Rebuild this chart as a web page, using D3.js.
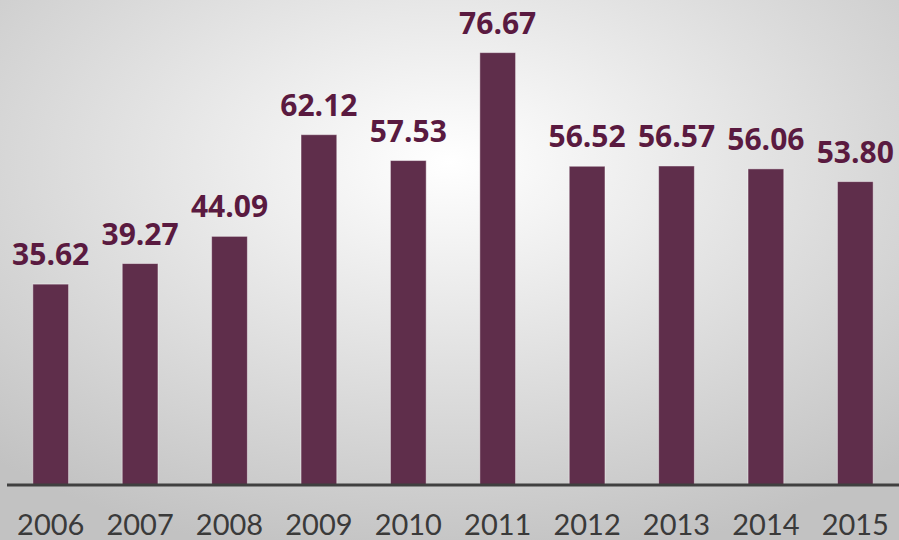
<!DOCTYPE html>
<html>
<head>
<meta charset="utf-8">
<script src="https://cdn.jsdelivr.net/npm/d3@7"></script>
<style>
  body { margin: 0; }
  svg { display: block; }
</style>
</head>
<body>
<div id="chart"></div>
<script>
var years = ["2006", "2007", "2008", "2009", "2010", "2011", "2012", "2013", "2014", "2015"]
var values = [35.62, 39.27, 44.09, 62.12, 57.53, 76.67, 56.52, 56.57, 56.06, 53.80]

var width = 899,
    height = 540,
    baseline = 485

var svg = d3.select("#chart")
    .append("svg")
    .attr("width", width)
    .attr("height", height)

var defs = svg.append("defs")
var grad = defs.append("radialGradient")
    .attr("id", "bg")
    .attr("cx", "50%").attr("cy", "30%").attr("r", "75%")
grad.append("stop").attr("offset", "0%").attr("stop-color", "#ffffff")
grad.append("stop").attr("offset", "100%").attr("stop-color", "#c2c2c2")

svg.append("rect")
    .attr("width", width)
    .attr("height", height)
    .attr("fill", "url(#bg)")

var x = d3.scaleBand()
    .domain(years)
    .range([6, 900])
    .paddingInner(0.6)
    .paddingOuter(0.3)

var y = d3.scaleLinear()
    .domain([0, 86])
    .range([baseline, 0])

svg.selectAll(".bar")
    .data(values)
    .enter().append("rect")
    .attr("class", "bar")
    .attr("x", function(d, i) { return x(years[i]) })
    .attr("y", function(d) { return y(d) })
    .attr("width", x.bandwidth())
    .attr("height", function(d) { return baseline - y(d) })
    .attr("fill", "#5f2e4b")
    .attr("stroke", "rgba(255,255,255,0.45)")
    .attr("stroke-width", 1)

svg.selectAll(".label")
    .data(values)
    .enter().append("text")
    .attr("class", "label")
    .attr("x", function(d, i) { return x(years[i]) + x.bandwidth() / 2 })
    .attr("y", function(d) { return y(d) - 19 })
    .attr("text-anchor", "middle")
    .style("font-family", "'Open Sans', sans-serif")
    .style("font-weight", "bold")
    .style("font-size", "30px")
    .style("fill", "#5a1a40")
    .text(function(d) { return d.toFixed(2) })

var axis = svg.append("g")
    .attr("transform", "translate(0," + baseline + ")")
    .call(d3.axisBottom(x).tickSize(0).tickPadding(0))

axis.select(".domain").remove()
axis.append("line")
    .attr("x1", 7).attr("x2", width)
    .attr("y1", 0).attr("y2", 0)
    .attr("stroke", "#404040")
    .attr("stroke-width", 3)

axis.selectAll("text")
    .attr("y", 50)
    .attr("dy", null)
    .style("font-family", "Lato, sans-serif")
    .style("font-size", "29px")
    .style("fill", "#3a3a3a")
</script>
</body>
</html>
